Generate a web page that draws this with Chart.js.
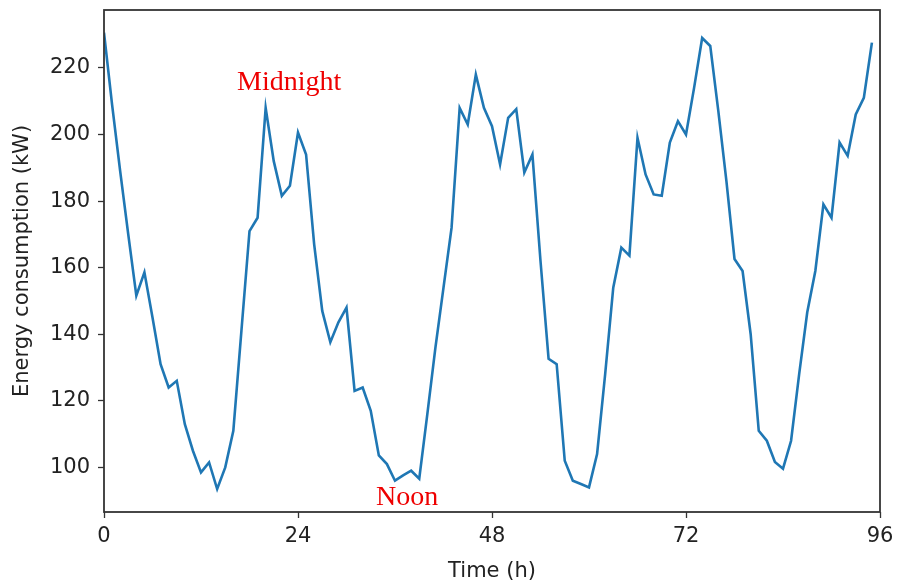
<!DOCTYPE html>
<html>
<head>
<meta charset="utf-8">
<script src="https://cdn.jsdelivr.net/npm/chart.js@4/dist/chart.umd.min.js"></script>
<style>
  html, body { margin: 0; padding: 0; background: #fff; }
  #wrap { width: 897px; height: 584px; }
</style>
</head>
<body>
<div id="wrap"><canvas id="energyChart" width="897" height="584"></canvas></div>
<script>
// hourly load over four days, kW
const loadKw = [
  230.6, 209, 189, 170, 151.6, 158.6, 145, 131, 124, 126,
  113, 105, 98.5, 101.5, 93.5, 100, 111, 141, 171, 175,
  208, 192, 181.6, 184.6, 200.6, 194, 167, 147, 137.6, 143.6,
  148, 123, 124, 117, 103.6, 101, 96, 97.6, 99, 96.6,
  116, 136, 154, 172, 208, 203, 218, 208, 202.5, 191,
  205, 207.6, 188.6, 194, 162, 132.6, 131, 102, 96, 95,
  94, 104, 128, 154, 166, 163.6, 199, 188, 182, 181.6,
  197.6, 204, 200, 214, 229, 226.6, 207, 186, 162.6, 159,
  140, 111, 108, 101.6, 99.6, 108, 128, 146.6, 159, 179,
  175, 197.6, 193.6, 206, 211, 227.6
];
const hours = loadKw.map((_, i) => i);

const xTicks = [0, 24, 48, 72, 96];
const yRange = [86.6, 237.4];

// red text notes placed in data coordinates
const notes = [
  { text: 'Midnight', x: 22.9, y: 215.5 },
  { text: 'Noon', x: 37.5, y: 91 }
];

const framePlugin = {
  id: 'frame',
  afterDatasetsDraw(chart) {
    const { ctx, chartArea: a, scales } = chart;
    ctx.save();
    ctx.strokeStyle = '#333';
    ctx.lineWidth = 1.8;
    ctx.strokeRect(a.left, a.top, a.right - a.left, a.bottom - a.top);

    ctx.fillStyle = '#ee0000';
    ctx.font = '28px "Liberation Serif", "Times New Roman", serif';
    ctx.textAlign = 'center';
    ctx.textBaseline = 'middle';
    notes.forEach(n => {
      ctx.fillText(n.text, scales.x.getPixelForValue(n.x), scales.y.getPixelForValue(n.y));
    });
    ctx.restore();
  }
};

const axisFont = { family: '"DejaVu Sans", sans-serif', size: 21 };

new Chart(document.getElementById('energyChart'), {
  type: 'line',
  data: {
    datasets: [{
      data: hours.map((h, i) => ({ x: h, y: loadKw[i] })),
      borderColor: '#1f77b4',
      borderWidth: 2.6,
      pointRadius: 0,
      tension: 0,
      fill: false
    }]
  },
  options: {
    responsive: false,
    animation: false,
    layout: { padding: { top: 10, right: 17, left: 0, bottom: 0 } },
    plugins: { legend: { display: false }, tooltip: { enabled: false } },
    scales: {
      x: {
        type: 'linear',
        min: xTicks[0],
        max: xTicks[xTicks.length - 1],
        afterFit: s => { s.height = 72; s.paddingRight = 0; s.paddingLeft = 0; },
        afterBuildTicks: s => { s.ticks = xTicks.map(v => ({ value: v })); },
        grid: { drawOnChartArea: false, tickLength: 6, color: '#333', tickWidth: 1.3 },
        border: { display: false },
        ticks: { color: '#222', font: axisFont, padding: 6, maxRotation: 0 },
        title: { display: true, text: 'Time (h)', color: '#222', font: axisFont, padding: { top: 0, bottom: 0 } }
      },
      y: {
        min: yRange[0],
        max: yRange[1],
        afterFit: s => { s.width = 104; s.paddingTop = 0; s.paddingBottom = 0; },
        grid: { drawOnChartArea: false, tickLength: 6, color: '#333', tickWidth: 1.3 },
        border: { display: false },
        ticks: { stepSize: 20, includeBounds: false, color: '#222', font: axisFont, padding: 8 },
        title: { display: true, text: 'Energy consumption (kW)', color: '#222', font: axisFont, padding: { top: 10, bottom: 0 } }
      }
    }
  },
  plugins: [framePlugin]
});
</script>
</body>
</html>
